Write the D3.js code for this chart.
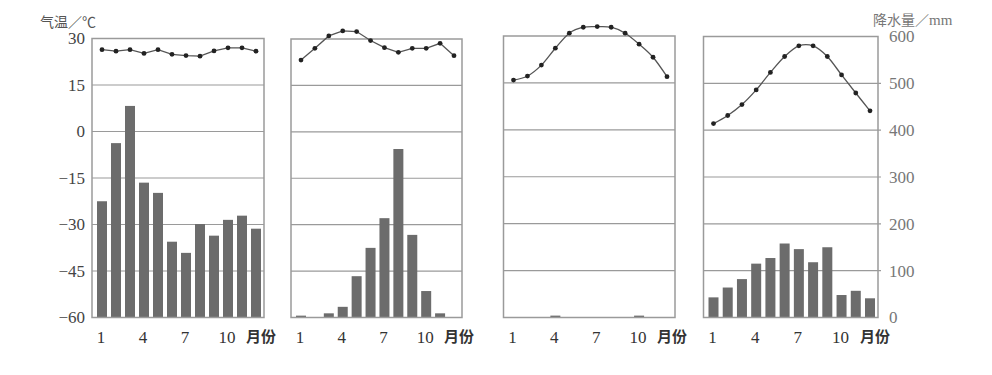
<!DOCTYPE html>
<html>
<head>
<meta charset="utf-8">
<script src="https://cdn.jsdelivr.net/npm/d3@7"></script>
<style>
  body { margin: 0; background: #fff; }
  text { font-family: "Liberation Serif", "Noto Sans CJK SC", serif; }
</style>
</head>
<body>
<svg id="chart" width="992" height="375"></svg>
<script>
const months = [1, 2, 3, 4, 5, 6, 7, 8, 9, 10, 11, 12];
const monthLabels = [1, 4, 7, 10];
const tempTicks = [30, 15, 0, -15, -30, -45, -60];
const precipTicks = [600, 500, 400, 300, 200, 100, 0];

// monthly mean temperature (°C), one array per station
const tempA = [26.4, 25.9, 26.4, 25.2, 26.4, 24.9, 24.5, 24.3, 26.0, 27.0, 27.0, 25.9];
const tempB = [23.2, 27.0, 31.0, 32.6, 32.4, 29.5, 27.2, 25.7, 27.0, 27.0, 28.6, 24.6];
const tempC = [15.9, 17.2, 20.7, 26.1, 30.9, 32.8, 33.0, 32.8, 30.9, 27.4, 23.2, 17.0];
const tempD = [2.1, 4.7, 8.2, 12.9, 18.5, 23.6, 27.0, 27.0, 23.6, 17.7, 11.9, 6.2];

// monthly precipitation (mm)
const rainA = [250, 375, 455, 290, 268, 163, 139, 201, 176, 210, 219, 191];
const rainB = [4, 0, 9, 23, 89, 150, 214, 363, 178, 57, 9, 0];
const rainC = [0, 0, 0, 4, 0, 0, 0, 0, 0, 4, 0, 0];
const rainD = [43, 64, 82, 115, 127, 158, 146, 118, 150, 48, 57, 41];

const panels = [
  { temp: tempA, rain: rainA, x0: 92, x1: 264, top: 38.5, smooth: false },
  { temp: tempB, rain: rainB, x0: 291, x1: 462, top: 39, smooth: false },
  { temp: tempC, rain: rainC, x0: 503.5, x1: 675, top: 36, smooth: true },
  { temp: tempD, rain: rainD, x0: 703.5, x1: 878, top: 36.5, smooth: true }
];
const bottom = 317.5;

const svg = d3.select("#chart");
const gridColor = "#9a9a9a";
const barColor = "#6c6c6c";
const lineColor = "#555";

panels.forEach((p, i) => {
  const g = svg.append("g");
  const x = d3.scalePoint().domain(months).range([p.x0 + 10, p.x1 - 8]);
  const yT = d3.scaleLinear().domain([-60, 30]).range([bottom, p.top]);
  const yR = d3.scaleLinear().domain([0, 600]).range([bottom, p.top]);

  // grid lines
  g.selectAll("line.grid")
    .data(tempTicks.slice(1, -1))
    .join("line")
    .attr("class", "grid")
    .attr("x1", p.x0).attr("x2", i === 3 ? p.x1 + 3 : p.x1)
    .attr("y1", d => yT(d)).attr("y2", d => yT(d))
    .attr("stroke", gridColor)
    .attr("stroke-width", 1.2);

  // bars
  g.selectAll("rect.bar")
    .data(months.map((m, k) => ({ m, v: p.rain[k] })).filter(d => d.v > 0))
    .join("rect")
    .attr("class", "bar")
    .attr("x", d => x(d.m) - 5)
    .attr("width", 10)
    .attr("y", d => yR(d.v))
    .attr("height", d => bottom - yR(d.v))
    .attr("fill", barColor);

  // frame
  g.append("rect")
    .attr("x", p.x0).attr("y", p.top)
    .attr("width", p.x1 - p.x0).attr("height", bottom - p.top)
    .attr("fill", "none")
    .attr("stroke", gridColor)
    .attr("stroke-width", 1.5);

  // temperature line
  const line = d3.line()
    .x((d, k) => x(months[k]))
    .y(d => yT(d))
    .curve(p.smooth ? d3.curveCardinal : d3.curveLinear);
  g.append("path")
    .datum(p.temp)
    .attr("d", line)
    .attr("fill", "none")
    .attr("stroke", lineColor)
    .attr("stroke-width", 1.3);
  g.selectAll("circle")
    .data(p.temp)
    .join("circle")
    .attr("cx", (d, k) => x(months[k]))
    .attr("cy", d => yT(d))
    .attr("r", 2.4)
    .attr("fill", "#222");

  // month labels
  g.selectAll("text.month")
    .data(monthLabels)
    .join("text")
    .attr("class", "month")
    .attr("x", d => x(d) - 1)
    .attr("y", 343)
    .attr("text-anchor", "middle")
    .attr("font-size", 17)
    .attr("fill", "#333")
    .text(d => d);
  g.append("text")
    .attr("x", p.x1 - 3)
    .attr("y", 342)
    .attr("text-anchor", "middle")
    .attr("font-size", 15)
    .attr("font-weight", "bold")
    .attr("fill", "#333")
    .style("font-family", "'Noto Sans CJK SC', sans-serif")
    .text("月份");

  // axes on outer panels
  if (i === 0) {
    const axisL = d3.axisLeft(yT).tickValues(tempTicks).tickSize(0).tickPadding(7)
      .tickFormat(d => d < 0 ? "\u2212" + Math.abs(d) : d);
    const ag = g.append("g").attr("transform", `translate(${p.x0},0)`).call(axisL);
    ag.attr("font-family", "Liberation Serif").attr("font-size", 17);
    ag.select(".domain").remove();
    ag.selectAll("text").attr("fill", "#444");
    g.append("text")
      .attr("x", 40).attr("y", 27)
      .attr("font-size", 14)
      .attr("fill", "#555")
      .style("font-family", "'Noto Sans CJK SC', sans-serif")
      .text("气温／℃");
  }
  if (i === 3) {
    const axisR = d3.axisRight(yR).tickValues(precipTicks).tickSize(0).tickPadding(11);
    const ag = g.append("g").attr("transform", `translate(${p.x1},0)`).call(axisR);
    ag.attr("font-family", "Liberation Serif").attr("font-size", 17);
    ag.select(".domain").remove();
    ag.selectAll("text").attr("fill", "#777");
    const t = g.append("text")
      .attr("x", 873).attr("y", 25)
      .attr("font-size", 14)
      .attr("fill", "#777");
    t.append("tspan").style("font-family", "'Noto Sans CJK SC', sans-serif").text("降水量／");
    t.append("tspan").style("font-family", "'Liberation Serif', serif").attr("font-size", 15).text("mm");
  }
});
</script>
</body>
</html>
